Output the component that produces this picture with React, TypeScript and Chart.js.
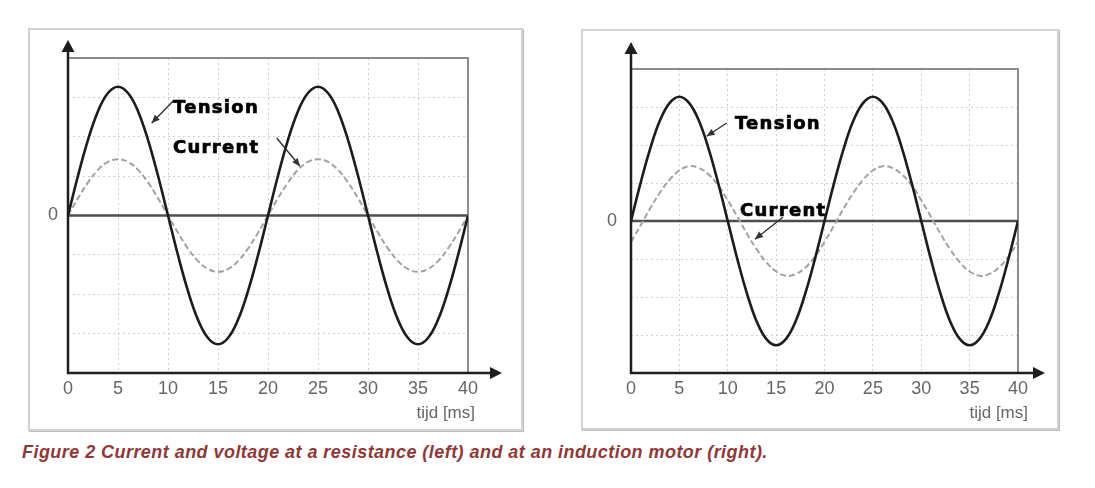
import React, { useEffect, useRef } from "react";
import { Chart, registerables } from "chart.js";

Chart.register(...registerables);

// ---- data ----
const timeMs = [
  0, 1, 2, 3, 4, 5, 6, 7, 8, 9, 10, 11, 12, 13, 14, 15, 16, 17, 18, 19, 20,
  21, 22, 23, 24, 25, 26, 27, 28, 29, 30, 31, 32, 33, 34, 35, 36, 37, 38, 39, 40,
];

const tensionValues = [
  0, 1.01, 1.92, 2.65, 3.11, 3.27, 3.11, 2.65, 1.92, 1.01, 0, -1.01, -1.92, -2.65, -3.11, -3.27, -3.11, -2.65, -1.92, -1.01, 0,
  1.01, 1.92, 2.65, 3.11, 3.27, 3.11, 2.65, 1.92, 1.01, 0, -1.01, -1.92, -2.65, -3.11, -3.27, -3.11, -2.65, -1.92, -1.01, 0,
];

const currentResistance = [
  0, 0.44, 0.84, 1.16, 1.36, 1.43, 1.36, 1.16, 0.84, 0.44, 0, -0.44, -0.84, -1.16, -1.36, -1.43, -1.36, -1.16, -0.84, -0.44, 0,
  0.44, 0.84, 1.16, 1.36, 1.43, 1.36, 1.16, 0.84, 0.44, 0, -0.44, -0.84, -1.16, -1.36, -1.43, -1.36, -1.16, -0.84, -0.44, 0,
];

const currentMotor = [
  -0.55, -0.11, 0.34, 0.75, 1.09, 1.33, 1.44, 1.4, 1.23, 0.94, 0.55, 0.11, -0.34, -0.75, -1.09, -1.33, -1.44, -1.4, -1.23, -0.94, -0.55,
  -0.11, 0.34, 0.75, 1.09, 1.33, 1.44, 1.4, 1.23, 0.94, 0.55, 0.11, -0.34, -0.75, -1.09, -1.33, -1.44, -1.4, -1.23, -0.94, -0.55,
];

const xMin = 0;
const xMax = 40;
const xStep = 5;
const yMin = -4;
const yMax = 4;
const yStep = 1;
const yLabelShown = 0;
const xAxisTitle = "tijd [ms]";
const tensionLabel = "Tension";
const currentLabel = "Current";
const caption =
  "Figure 2 Current and voltage at a resistance (left) and at an induction motor (right).";

// ---- drawing helpers ----
function arrowHead(ctx: CanvasRenderingContext2D, fx: number, fy: number, tx: number, ty: number, len: number, half: number) {
  const ang = Math.atan2(ty - fy, tx - fx);
  const bx = tx - Math.cos(ang) * len;
  const by = ty - Math.sin(ang) * len;
  const nx = -Math.sin(ang) * half;
  const ny = Math.cos(ang) * half;
  ctx.beginPath();
  ctx.moveTo(tx, ty);
  ctx.lineTo(bx + nx, by + ny);
  ctx.lineTo(bx - nx, by - ny);
  ctx.closePath();
  ctx.fill();
}

const schematicPlugin = {
  id: "schematic",
  beforeDatasetsDraw(chart: any, _args: any, opts: any) {
    const { ctx, chartArea: a } = chart;
    const y = chart.scales.y;
    ctx.save();
    ctx.strokeStyle = "#8c8c8c";
    ctx.lineWidth = 2;
    ctx.beginPath();
    ctx.moveTo(a.left, a.top);
    ctx.lineTo(a.right, a.top);
    ctx.lineTo(a.right, a.bottom);
    ctx.stroke();
    const y0 = y.getPixelForValue(0);
    ctx.strokeStyle = "#4e4e4e";
    ctx.lineWidth = 2.5;
    ctx.beginPath();
    ctx.moveTo(a.left, y0);
    ctx.lineTo(a.right, y0);
    ctx.stroke();
    ctx.restore();
  },
  afterDatasetsDraw(chart: any, _args: any, opts: any) {
    const { ctx, chartArea: a } = chart;
    const x = chart.scales.x;
    const y = chart.scales.y;
    ctx.save();
    // axes with arrow heads
    ctx.strokeStyle = "#1e1e1e";
    ctx.fillStyle = "#1e1e1e";
    ctx.lineWidth = 2.5;
    const topTip = a.top - opts.arrowTopGap;
    const rightTip = a.right + opts.arrowRightGap;
    ctx.beginPath();
    ctx.moveTo(a.left, a.bottom + 1);
    ctx.lineTo(a.left, topTip + 8);
    ctx.moveTo(a.left - 1, a.bottom);
    ctx.lineTo(rightTip - 8, a.bottom);
    ctx.stroke();
    arrowHead(ctx, a.left, a.bottom, a.left, topTip, 12, 6.5);
    arrowHead(ctx, a.left, a.bottom, rightTip, a.bottom, 12, 6);

    // annotation arrows
    ctx.strokeStyle = "#333";
    ctx.fillStyle = "#333";
    ctx.lineWidth = 1.4;
    for (const ar of opts.arrows) {
      const fx = x.getPixelForValue(ar.from[0]);
      const fy = y.getPixelForValue(ar.from[1]);
      const tx = x.getPixelForValue(ar.to[0]);
      const ty = y.getPixelForValue(ar.to[1]);
      ctx.beginPath();
      ctx.moveTo(fx, fy);
      ctx.lineTo(tx, ty);
      ctx.stroke();
      arrowHead(ctx, fx, fy, tx, ty, 8, 3.5);
    }
    // annotation labels
    ctx.fillStyle = "#000";
    ctx.strokeStyle = "#000";
    ctx.lineWidth = 0.7;
    ctx.font = '700 18px "DejaVu Sans"';
    ctx.textAlign = "left";
    ctx.textBaseline = "alphabetic";
    (ctx as any).letterSpacing = "1.3px";
    for (const lb of opts.labels) {
      const lx = x.getPixelForValue(lb.at[0]);
      const ly = y.getPixelForValue(lb.at[1]);
      ctx.fillText(lb.text, lx, ly);
      ctx.strokeText(lb.text, lx, ly);
    }
    (ctx as any).letterSpacing = "0px";
    // axis title
    ctx.fillStyle = "#666";
    ctx.font = '17px "Liberation Sans", Arial';
    ctx.textAlign = "right";
    ctx.fillText(opts.title, a.right + opts.titleDx, a.bottom + opts.titleDy);
    ctx.restore();
  },
};

type PanelProps = {
  left: number;
  top: number;
  width: number;
  height: number;
  area: { left: number; top: number; right: number; bottom: number };
  current: number[];
  yLabelPad: number;
  overlay: any;
};

function Panel(p: PanelProps) {
  const ref = useRef<HTMLCanvasElement | null>(null);
  useEffect(() => {
    const canvas = ref.current;
    if (!canvas) return;
    const tensionPts = timeMs.map((t, i) => ({ x: t, y: tensionValues[i] }));
    const currentPts = timeMs.map((t, i) => ({ x: t, y: p.current[i] }));
    const chart = new Chart(canvas, {
      type: "line",
      data: {
        datasets: [
          {
            label: tensionLabel,
            data: tensionPts,
            borderColor: "#1c1c1c",
            borderWidth: 2.6,
            pointRadius: 0,
            tension: 0.4,
            fill: false,
          },
          {
            label: currentLabel,
            data: currentPts,
            borderColor: "#a2a2a2",
            borderWidth: 2,
            borderDash: [6, 3],
            pointRadius: 0,
            tension: 0.4,
            fill: false,
          },
        ],
      },
      options: {
        animation: false,
        responsive: false,
        devicePixelRatio: 1,
        events: [],
        layout: {
          padding: {
            left: 0,
            top: p.area.top,
            right: p.width - p.area.right,
            bottom: 0,
          },
        },
        plugins: {
          legend: { display: false },
          tooltip: { enabled: false },
          schematic: p.overlay,
        } as any,
        scales: {
          x: {
            type: "linear",
            min: xMin,
            max: xMax,
            afterFit: (s: any) => {
              s.height = p.height - p.area.bottom;
            },
            ticks: {
              stepSize: xStep,
              color: "#666",
              font: { family: '"Liberation Sans", Arial', size: 18 },
              padding: 5,
              maxRotation: 0,
              autoSkip: false,
            },
            grid: { color: "#cfcfcf", lineWidth: 1, drawTicks: false },
            border: { display: false, dash: [2, 3] },
          },
          y: {
            type: "linear",
            min: yMin,
            max: yMax,
            afterFit: (s: any) => {
              s.width = p.area.left;
            },
            ticks: {
              stepSize: yStep,
              color: "#666",
              font: { family: '"Liberation Sans", Arial', size: 18 },
              padding: p.yLabelPad,
              autoSkip: false,
              callback: (v: any) => (Number(v) === yLabelShown ? String(yLabelShown) : ""),
            },
            grid: { color: "#cfcfcf", lineWidth: 1, drawTicks: false },
            border: { display: false, dash: [2, 3] },
          },
        },
      },
      plugins: [schematicPlugin as any],
    });
    return () => chart.destroy();
  }, []);
  return (
    <>
      <div
        style={{
          position: "absolute",
          left: p.left,
          top: p.top,
          width: p.width,
          height: p.height,
          boxSizing: "border-box",
          border: "2px solid #d2d2d2",
          boxShadow: "1px 1px 0 #bdbdbd",
          background: "#fff",
        }}
      />
      <canvas
        ref={ref}
        width={p.width}
        height={p.height}
        style={{ position: "absolute", left: p.left, top: p.top, width: p.width, height: p.height }}
      />
    </>
  );
}

export default function App() {
  return (
    <div style={{ position: "absolute", left: 0, top: 0, width: 1095, height: 488, background: "#fff" }}>
      <Panel
        left={28}
        top={28}
        width={495}
        height={403}
        area={{ left: 40, top: 30, right: 440, bottom: 345 }}
        current={currentResistance}
        yLabelPad={10}
        overlay={{
          arrowTopGap: 18,
          arrowRightGap: 34,
          title: xAxisTitle,
          titleDx: 7,
          titleDy: 45,
          labels: [
            { text: tensionLabel, at: [10.5, 2.61] },
            { text: currentLabel, at: [10.5, 1.6] },
          ],
          arrows: [
            { from: [10.5, 2.9], to: [8.37, 2.35] },
            { from: [20.87, 1.97], to: [23.2, 1.25] },
          ],
        }}
      />
      <Panel
        left={581}
        top={29}
        width={478}
        height={401}
        area={{ left: 50, top: 40, right: 437, bottom: 344 }}
        current={currentMotor}
        yLabelPad={14}
        overlay={{
          arrowTopGap: 27,
          arrowRightGap: 27,
          title: xAxisTitle,
          titleDx: 10,
          titleDy: 45,
          labels: [
            { text: tensionLabel, at: [10.74, 2.41] },
            { text: currentLabel, at: [11.26, 0.13] },
          ],
          arrows: [
            { from: [9.89, 2.58], to: [7.82, 2.23] },
            { from: [15.7, 0.1], to: [12.81, -0.48] },
          ],
        }}
      />
      <div
        style={{
          position: "absolute",
          left: 22,
          top: 441,
          font: 'italic 700 18px "Liberation Sans", Arial, sans-serif',
          letterSpacing: "0.45px",
          lineHeight: "22px",
          color: "#943634",
          whiteSpace: "nowrap",
        }}
      >
        {caption}
      </div>
    </div>
  );
}
